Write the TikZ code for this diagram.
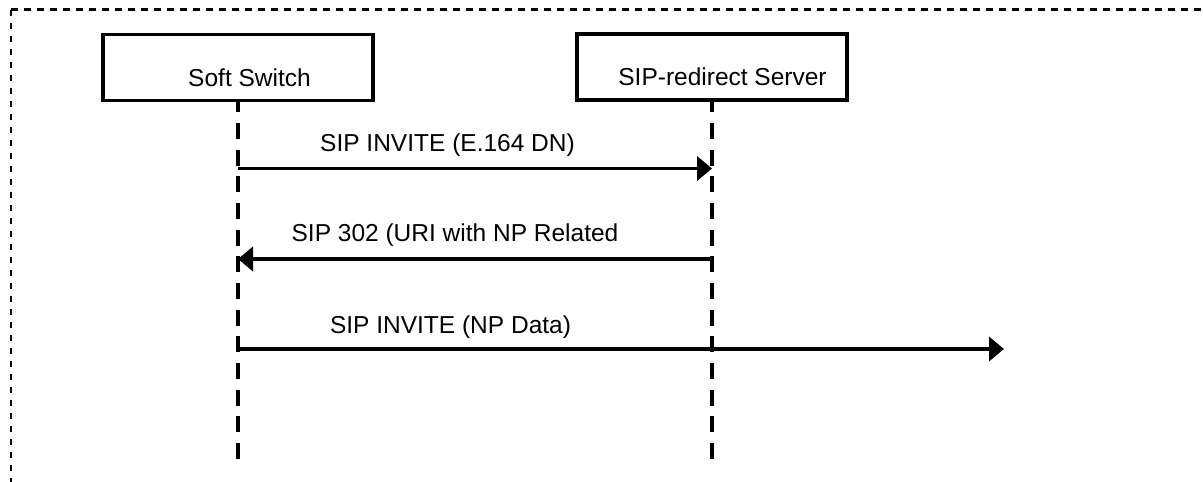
\documentclass[tikz,border=0pt]{standalone}
\usepackage{fontspec}
\setmainfont{Liberation Sans}
\usetikzlibrary{arrows.meta}
\begin{document}
\begin{tikzpicture}[x=1pt,y=-1pt,
  box/.style={draw,line width=3.8pt,minimum width=270.5pt,minimum height=66pt,inner sep=0pt},
  lbl/.style={anchor=base,font=\fontsize{24.5}{28}\selectfont,inner sep=0pt},
  lifeline/.style={line width=3.8pt,dash pattern=on 16pt off 10.67pt},
  msg/.style={line width=3.8pt,-{Triangle[length=15pt,width=24pt]}},
  frame/.style={line width=2.1pt,dash pattern=on 6.5pt off 6.5pt}]
\useasboundingbox (0,0) rectangle (1203,482);
% frame (cut off at right and bottom)
\coordinate (ftl) at (11,9.5);
\coordinate (ftr) at (1203,9.5);
\coordinate (fbl) at (11,482);
\draw[frame] (ftl) -- (ftr);
\draw[frame] (ftl) -- (fbl);
% participants
\node[box] (ss) at (238,67.5) {};
\node[box] (sr) at (712,67) {};
\node[lbl] (sst) at (249.5,86) {Soft Switch};
\node[lbl] (srt) at (722.5,85) {SIP-redirect Server};
% lifelines
\coordinate (ssend) at (238,459);
\coordinate (srend) at (712,459);
\draw[lifeline] (ssend) -- (ss.south);
\draw[lifeline] (srend) -- (sr.south);
% messages
\coordinate (m1a) at (238,168.5);
\coordinate (m1b) at (712,168.5);
\draw[msg] (m1a) -- (m1b);
\node[lbl] (l1) at (447.5,151) {SIP INVITE (E.164 DN)};
\coordinate (m2a) at (712,259);
\coordinate (m2b) at (238,259);
\draw[msg] (m2a) -- (m2b);
\node[lbl] (l2) at (455,241) {SIP 302 (URI with NP Related};
\coordinate (m3a) at (238,349);
\coordinate (m3b) at (1004,349);
\draw[msg] (m3a) -- (m3b);
\node[lbl] (l3) at (450.5,333) {SIP INVITE (NP Data)};
\end{tikzpicture}
\end{document}
